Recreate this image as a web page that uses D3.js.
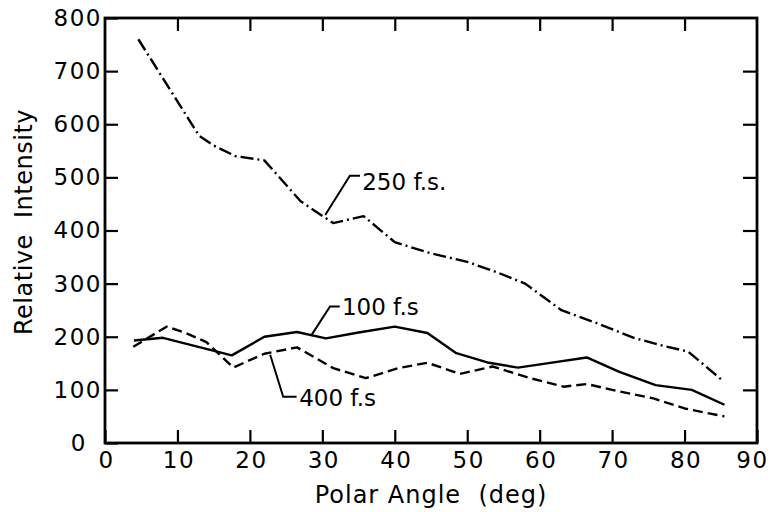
<!DOCTYPE html>
<html>
<head>
<meta charset="utf-8">
<script src="https://cdn.jsdelivr.net/npm/d3@7"></script>
<style>
  html, body { margin: 0; padding: 0; background: #fff; }
  svg { display: block; }
  text { font-family: "DejaVu Sans", sans-serif; fill: #000; white-space: pre; }
</style>
</head>
<body>
<svg id="chart" width="773" height="512"></svg>
<script>
// ---- data (polar angle in deg, relative intensity) ----
const xTicks = [0, 10, 20, 30, 40, 50, 60, 70, 80, 90];
const yTicks = [0, 100, 200, 300, 400, 500, 600, 700, 800];

const angle250 = [4.6, 13, 15, 18, 22, 27, 31.5, 35.7, 40, 45, 50, 54, 58, 61, 63, 68, 73, 77, 80.5, 85.3];
const value250 = [760, 578, 560, 540, 532, 455, 414, 427, 378, 357, 341, 322, 300, 270, 250, 225, 198, 183, 172, 117];

const angle100 = [4, 8, 17.5, 22, 26.5, 30.5, 35, 40, 44.5, 48.5, 53, 57, 61, 66.5, 71, 76, 81, 85.5];
const value100 = [193, 198, 165, 200, 209, 197, 208, 219, 207, 169, 151, 142, 150, 161, 134, 109, 100, 72];

const angle400 = [3.9, 8.5, 11, 14, 17.7, 22, 26.5, 31.5, 36, 40.5, 44.5, 49, 53.5, 58.7, 63.3, 66.5, 71, 75.7, 80, 85.5];
const value400 = [181, 219, 208, 190, 142, 168, 180, 141, 122, 141, 151, 130, 144, 122, 106, 111, 97, 84, 65, 50];

const seriesNames = ["250 f.s.", "100 f.s", "400 f.s"];

// annotation leaders, in data coordinates
const leader250 = [[30.4, 429], [33.8, 503], [35.2, 503]];
const leader100 = [[28.5, 203], [31.06, 257], [32.4, 257]];
const leader400 = [[22.8, 166], [24.6, 87], [26.45, 87]];
const labelPos = [[35.5, 476], [32.7, 241], [26.8, 69]];

// ---- layout ----
const svg = d3.select("#chart");
const x = d3.scaleLinear().domain([0, 90]).range([105, 757]);
const y = d3.scaleLinear().domain([0, 800]).range([443, 18]);

// frame
svg.append("rect")
  .attr("x", x(0)).attr("y", y(800))
  .attr("width", x(90) - x(0)).attr("height", y(0) - y(800))
  .attr("fill", "none").attr("stroke", "#000").attr("stroke-width", 2.8);

function styleAxis(g) {
  g.select(".domain").remove();
  g.selectAll(".tick line").attr("stroke", "#000").attr("stroke-width", 2.2);
  g.selectAll(".tick text")
    .style("font-family", "'DejaVu Sans', sans-serif")
    .style("font-size", "23px")
    .style("letter-spacing", "1.5px")
    .attr("fill", "#000");
}

const gBottom = svg.append("g").attr("transform", `translate(0,${y(0)})`)
  .call(d3.axisBottom(x).tickValues(xTicks).tickSizeInner(-13).tickSizeOuter(0).tickPadding(9).tickFormat(d3.format("d")));
styleAxis(gBottom);
gBottom.selectAll(".tick text").attr("dx", d => d === 90 ? "-5px" : "1px");

const gLeft = svg.append("g").attr("transform", `translate(${x(0)},0)`)
  .call(d3.axisLeft(y).tickValues(yTicks).tickSizeInner(-13).tickSizeOuter(0).tickPadding(3).tickFormat(d3.format("d")));
styleAxis(gLeft);
gLeft.selectAll(".tick text").filter(d => d === 0).attr("x", -18);

const gTop = svg.append("g").attr("transform", `translate(0,${y(800)})`)
  .call(d3.axisTop(x).tickValues(xTicks.slice(1, -1)).tickSizeInner(-13).tickSizeOuter(0).tickFormat(""));
styleAxis(gTop);

const gRight = svg.append("g").attr("transform", `translate(${x(90)},0)`)
  .call(d3.axisRight(y).tickValues(yTicks.slice(1, -1)).tickSizeInner(-14).tickSizeOuter(0).tickFormat(""));
styleAxis(gRight);

// axis titles
svg.append("text")
  .attr("x", 431).attr("y", 503)
  .attr("text-anchor", "middle")
  .style("font-size", "24px").style("letter-spacing", "1px")
  .text("Polar Angle  (deg)");

svg.append("text")
  .attr("transform", "translate(32,222) rotate(-90)")
  .attr("text-anchor", "middle")
  .style("font-size", "24px").style("letter-spacing", "0.5px")
  .text("Relative  Intensity");

// series
const line = d3.line().x(d => x(d[0])).y(d => y(d[1]));
const s250 = angle250.map((a, i) => [a, value250[i]]);
const s100 = angle100.map((a, i) => [a, value100[i]]);
const s400 = angle400.map((a, i) => [a, value400[i]]);

const dashes = ["13,4,2,4", null, "10,5"];
[s250, s100, s400].forEach((s, i) => {
  svg.append("path")
    .datum(s)
    .attr("d", line)
    .attr("fill", "none")
    .attr("stroke", "#000")
    .attr("stroke-width", 2.4)
    .attr("stroke-linejoin", "round")
    .attr("stroke-dasharray", dashes[i]);
});

// annotations
[leader250, leader100, leader400].forEach((l, i) => {
  svg.append("path")
    .datum(l)
    .attr("d", line)
    .attr("fill", "none")
    .attr("stroke", "#000")
    .attr("stroke-width", 2);
  svg.append("text")
    .attr("x", x(labelPos[i][0]))
    .attr("y", y(labelPos[i][1]))
    .style("font-size", "23px")
    .text(seriesNames[i]);
});
</script>
</body>
</html>
